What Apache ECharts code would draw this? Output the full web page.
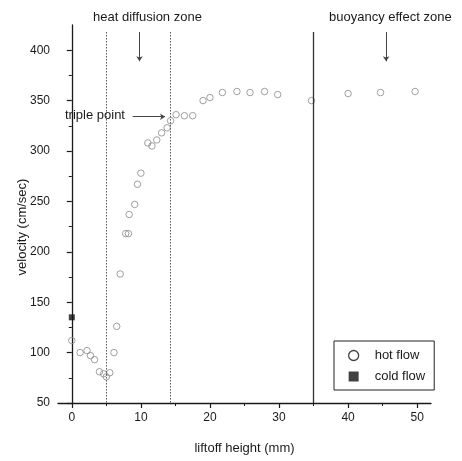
<!DOCTYPE html>
<html>
<head>
<meta charset="utf-8">
<script src="https://cdn.jsdelivr.net/npm/echarts@6/dist/echarts.min.js"></script>
<style>
  html, body { margin: 0; padding: 0; background: #fff; }
  #chart { width: 462px; height: 461px; }
</style>
</head>
<body>
<div id="chart"></div>
<script>
// liftoff height (mm) vs. velocity (cm/sec)
const hotFlow = [
  [0, 112], [1.2, 100], [2.2, 102], [2.7, 97], [3.3, 93], [4.0, 81], [4.6, 79],
  [5.0, 76], [5.5, 80], [6.1, 100], [6.5, 126], [7.0, 178], [7.8, 218], [8.2, 218],
  [8.3, 237], [9.1, 247], [9.5, 267], [10.0, 278], [11.0, 308], [11.6, 305],
  [12.3, 311], [13.0, 318], [13.8, 323], [14.3, 330], [15.1, 336], [16.3, 335],
  [17.5, 335], [19.0, 350], [20.0, 353], [21.8, 358], [23.9, 359], [25.8, 358],
  [27.9, 359], [29.8, 356], [34.7, 350], [40.0, 357], [44.7, 358], [49.7, 359]
];
const coldFlow = [[0, 135]];

const xMajorTicks = [0, 10, 20, 30, 40, 50];
const xMinorTicks = [5, 15, 25, 35, 45];
const yMajorTicks = [50, 100, 150, 200, 250, 300, 350, 400];
const yMinorTicks = [75, 125, 175, 225, 275, 325, 375];

// zone boundaries (mm) and annotation arrows
const zoneBounds = [5, 14.3, 35];
const zoneTop = 418;
const heatArrowX = 9.8;
const buoyArrowX = 45.5;
const arrowFromV = 418, arrowToV = 389;
const triplePointV = 334;
const tripleArrowFrom = 8.8, tripleArrowTo = 13.5;

const xMin = -2, xMax = 52, yMin = 50, yMax = 425;
const font = 'Liberation Sans, Arial, sans-serif';
const ink = '#1a1a1a';

const chart = echarts.init(document.getElementById('chart'));

const baseX = {
  type: 'value', min: xMin, max: xMax, position: 'bottom',
  splitLine: { show: false }
};
const baseY = {
  type: 'value', min: yMin, max: yMax, position: 'left',
  splitLine: { show: false }
};

chart.setOption({
  animation: false,
  backgroundColor: '#fff',
  grid: { left: 58, right: 31, top: 25, bottom: 58 },
  xAxis: [
    Object.assign({}, baseX, {
      name: 'liftoff height (mm)', nameLocation: 'middle', nameGap: 39,
      nameTextStyle: { fontFamily: font, fontSize: 13, color: ink },
      axisLine: { show: true, lineStyle: { color: ink, width: 1.3 } },
      axisTick: { show: true, customValues: xMajorTicks, length: 5, inside: false, lineStyle: { color: ink, width: 1.2 } },
      axisLabel: { customValues: xMajorTicks, margin: 9, fontFamily: font, fontSize: 12, color: ink }
    }),
    Object.assign({}, baseX, {
      axisLine: { show: false },
      axisTick: { show: true, customValues: xMinorTicks, length: 3, lineStyle: { color: ink, width: 1 } },
      axisLabel: { show: false }
    })
  ],
  yAxis: [
    Object.assign({}, baseY, {
      axisLine: { show: true, lineStyle: { color: ink, width: 1.3 } },
      axisTick: { show: true, customValues: yMajorTicks, length: 5, lineStyle: { color: ink, width: 1.2 } },
      axisLabel: { customValues: yMajorTicks, margin: 8, fontFamily: font, fontSize: 12, color: ink }
    }),
    Object.assign({}, baseY, {
      axisLine: { show: false },
      axisTick: { show: true, customValues: yMinorTicks, length: 3, lineStyle: { color: ink, width: 1 } },
      axisLabel: { show: false }
    })
  ],
  legend: {
    orient: 'vertical', left: 334, top: 341,
    padding: [8, 9, 7, 14], itemGap: 8,
    itemWidth: 10, itemHeight: 10,
    borderColor: '#222', borderWidth: 1,
    textStyle: { fontFamily: font, fontSize: 13, color: ink, padding: [0, 0, 0, 11] },
    data: [
      { name: 'hot flow', icon: 'circle', itemStyle: { color: '#fff', borderColor: '#111', borderWidth: 1.3 } },
      { name: 'cold flow', icon: 'rect', itemStyle: { color: '#111' } }
    ]
  },
  graphic: [
    { type: 'text', left: 93, top: 11, style: { text: 'heat diffusion zone', font: '13px ' + font, fill: ink } },
    { type: 'text', left: 329, top: 11, style: { text: 'buoyancy effect zone', font: '13px ' + font, fill: ink } },
    { type: 'text', left: 65, top: 109, style: { text: 'triple point', font: '13px ' + font, fill: ink } },
    { type: 'text', x: 22, y: 227, rotation: Math.PI / 2,
      style: { text: 'velocity (cm/sec)', font: '13px ' + font, fill: ink, align: 'center', verticalAlign: 'middle' } }
  ],
  series: [
    {
      name: 'hot flow', type: 'scatter', data: hotFlow,
      symbol: 'circle', symbolSize: 6.5,
      itemStyle: { color: 'rgba(255,255,255,0)', borderColor: '#888', borderWidth: 1 },
      markLine: {
        silent: true, symbol: ['none', 'none'], label: { show: false },
        data: [
          [{ coord: [zoneBounds[0], zoneTop], lineStyle: { type: [1.5, 1.5], color: '#555', width: 1 } }, { coord: [zoneBounds[0], yMin] }],
          [{ coord: [zoneBounds[1], zoneTop], lineStyle: { type: [1.5, 1.5], color: '#555', width: 1 } }, { coord: [zoneBounds[1], yMin] }],
          [{ coord: [zoneBounds[2], zoneTop], lineStyle: { type: 'solid', color: '#333', width: 1.3 } }, { coord: [zoneBounds[2], yMin] }]
        ]
      }
    },
    {
      name: 'cold flow', type: 'scatter', data: coldFlow,
      symbol: 'rect', symbolSize: 6,
      itemStyle: { color: '#111' },
      markLine: {
        silent: true, symbol: ['none', 'arrow'], symbolSize: 5, label: { show: false },
        lineStyle: { type: 'solid', color: '#444', width: 1 },
        data: [
          [{ coord: [heatArrowX, arrowFromV] }, { coord: [heatArrowX, arrowToV] }],
          [{ coord: [buoyArrowX, arrowFromV] }, { coord: [buoyArrowX, arrowToV] }],
          [{ coord: [tripleArrowFrom, triplePointV] }, { coord: [tripleArrowTo, triplePointV] }]
        ]
      }
    }
  ]
});
</script>
</body>
</html>
